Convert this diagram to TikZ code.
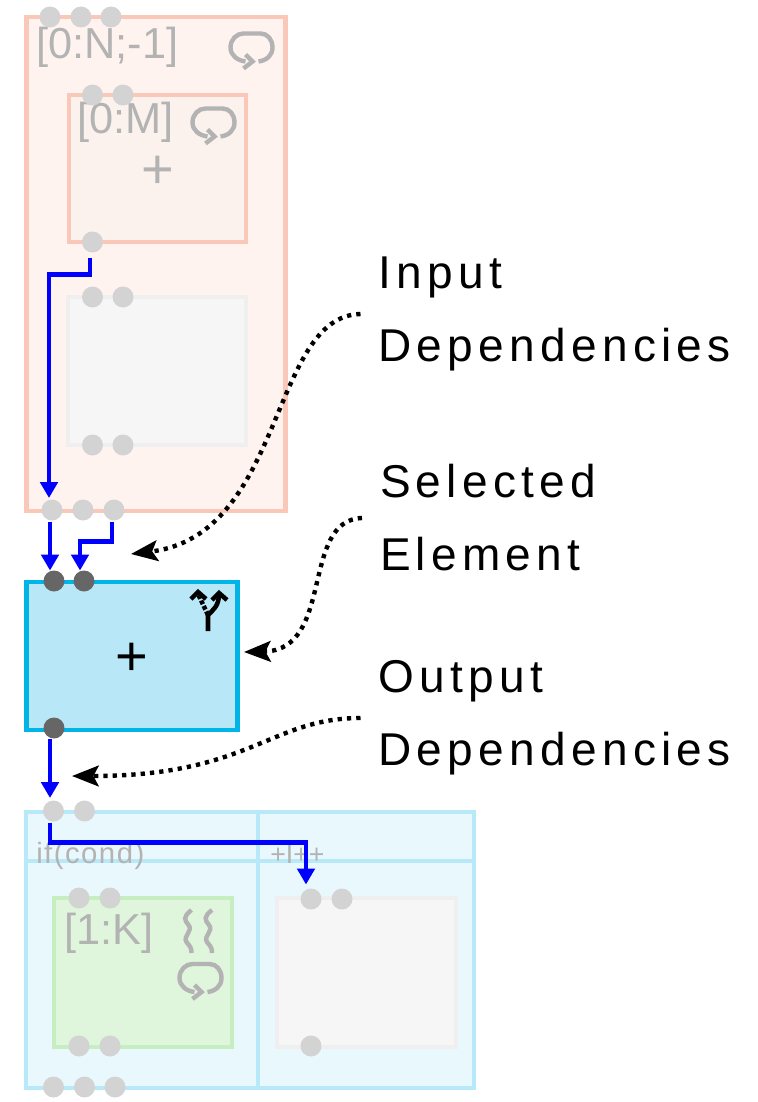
\documentclass[tikz,border=0pt]{standalone}
\usepackage{fontspec}
\setmainfont{Liberation Sans}
\usetikzlibrary{arrows.meta}
\definecolor{pinkline}{HTML}{F9C8B8}
\definecolor{pinkfill}{HTML}{FEF3EF}
\definecolor{pinkin}{HTML}{FBF1ED}
\definecolor{greyline}{HTML}{EFEFEF}
\definecolor{greyfill}{HTML}{F6F6F6}
\definecolor{selline}{HTML}{00B4E6}
\definecolor{selfill}{HTML}{B8E8F7}
\definecolor{ifline}{HTML}{B8E9F8}
\definecolor{iffill}{HTML}{E9F8FD}
\definecolor{greenline}{HTML}{C6EEC0}
\definecolor{greenfill}{HTML}{DFF5DC}
\definecolor{dimtext}{HTML}{B3B3B3}
\definecolor{portlight}{HTML}{D3D3D3}
\definecolor{portdark}{HTML}{666666}
\tikzset{
  x=0.75pt,y=-0.75pt,
  frame/.style={draw=#1,line width=3.2pt,rectangle,outer sep=0pt,inner sep=0pt,anchor=north west},
  port/.style={circle,fill=portlight,draw=none,minimum size=15.75pt,inner sep=0pt,outer sep=0pt},
  darkport/.style={port,fill=portdark},
  dep/.style={draw=blue,line width=3.5pt,-{Triangle[length=12pt,width=13pt]}},
  note/.style={draw=black,line width=3.3pt,dash pattern=on 3.2pt off 3.8pt,-{Stealth[length=20pt,width=15.5pt,inset=4pt]}},
  dimlabel/.style={text=dimtext,font=\fontsize{32.5pt}{32.5pt}\selectfont,anchor=base west,inner sep=0pt},
  smalllabel/.style={text=dimtext,font=\fontsize{21pt}{21pt}\selectfont,anchor=base west,inner sep=0pt},
  notelabel/.style={font=\addfontfeature{LetterSpace=11.5}\fontsize{34.5pt}{54.75pt}\selectfont,align=left,anchor=west,inner sep=0pt,outer sep=13.5pt},
  plusmark/.style={font=\fontsize{42pt}{42pt}\selectfont,inner sep=0pt},
  icon/.style={line width=3.3pt,draw=dimtext,line cap=butt},
  loopicon/.pic={
    \draw[icon] (-6,14) .. controls (-14,13) and (-21,8) .. (-21,0) .. controls (-21,-8) and (-15,-14) .. (-8,-14)
      -- (9,-14) .. controls (16,-14) and (21,-8) .. (21,0) .. controls (21,8) and (15,13) .. (7,14);
    \draw[icon] (-6,7) -- (1,14) -- (-8,21);
  },
  waveicon/.pic={
    \draw[icon] (0,0) .. controls (-9,7) and (-7,10) .. (-3,15) .. controls (2,21) and (-9,26) .. (-5,32) .. controls (-1,37) and (0,38) .. (0,43);
  }
}
\begin{document}
\begin{tikzpicture}
\useasboundingbox (0,0) rectangle (757,1102);
% frames
\node[frame=pinkline,fill=pinkfill,minimum width=194.25pt,minimum height=370.5pt] (outer) at (26.5,17) {};
\node[frame=pinkline,fill=pinkin,minimum width=133pt,minimum height=110.25pt] (inner) at (69,95) {};
\node[frame=greyline,fill=greyfill,minimum width=133.5pt,minimum height=111pt] (empty) at (68,297) {};
\node[frame=selline,fill=selfill,minimum width=158.25pt,minimum height=111pt] (sel) at (26.5,582) {};
\node[frame=ifline,fill=iffill,minimum width=336pt,minimum height=207pt] (cond) at (26,812) {};
\draw[ifline,line width=3.2pt] (cond.north west) ++(232,0) -- ++(0,276);
\draw[ifline,line width=3.2pt] (cond.north west) ++(0,49) -- ++(448,0);
\node[frame=greenline,fill=greenfill,minimum width=133.5pt,minimum height=111.75pt] (green) at (54,898) {};
\node[frame=greyline,fill=greyfill,minimum width=134.25pt,minimum height=111.75pt] (right) at (277,898) {};
% labels
\node[dimlabel] (l1) at (36,59) {[0:N;-1]};
\node[dimlabel] (l2) at (77,134) {[0:M]};
\node[dimlabel] (l3) at (64,944) {[1:K]};
\node[smalllabel,font=\addfontfeature{LetterSpace=5}\fontsize{22pt}{22pt}\selectfont] (l4) at (36,863) {if(cond)};
\node[smalllabel,font=\fontsize{20pt}{20pt}\selectfont] (l5) at (270,863) {+I++};
\node[plusmark,text=dimtext] (p1) at (157.5,172.5) {+};
\node[plusmark,text=black] (p2) at (131.5,659) {+};
% icons
\pic at (251.5,47.5) {loopicon};
\pic at (213.5,122.5) {loopicon};
\pic at (200.5,978) {loopicon};
\pic at (191.5,910) {waveicon};
\pic at (212,910) {waveicon};
% fork icon
\draw[line width=3.4pt] (208,631) -- (208,615) .. controls (213,610) and (219,606) .. (219,594);
\draw[line width=3.4pt] (212,600) -- (219,593) -- (227,600);
\draw[line width=3.4pt,dash pattern=on 3pt off 1.5pt] (208,615) -- (198,594);
\draw[line width=3.4pt] (191,599) -- (198,592) -- (206,599);
% ports
\foreach \n/\x/\y in {a1/50/17,a2/81/17,a3/111/17,b1/92.5/95,b2/123/95,c1/92.5/242,d1/92.5/297,d2/123/297,e1/92.5/445,e2/123/445,f1/52/510,f2/83/510,f3/114/510,h1/53.5/811,h2/84.5/811,i1/79/898,i2/110/898,j1/79/1046,j2/110/1046,k1/311/899,k2/342/899,m1/311/1046,n1/53.5/1087,n2/84.5/1087,n3/115/1087}
  \node[port] (\n) at (\x,\y) {};
\foreach \n/\x/\y in {g1/54/581,g2/84/581,g3/54/728}
  \node[darkport] (\n) at (\x,\y) {};
% dependencies
\draw[dep] ([shift={(-2.5,5)}]c1.south) -- ++(0,17) -| ([shift={(-3,-1.5)}]f1.north);
\draw[dep] ([shift={(-2,1)}]f1.south) -- ([shift={(-4,0)}]g1.north);
\draw[dep] ([shift={(-2,1)}]f3.south) -- ++(0,20) -| ([shift={(-4,0)}]g2.north);
\draw[dep] ([shift={(-4,0)}]g3.south) -- ([shift={(-3.5,-2.5)}]h1.north);
\draw[dep] ([shift={(-3.5,1)}]h1.south) -- ++(0,20) -| ([shift={(-5,-4)}]k1.north);
% notes
\node[notelabel] (n_in) at (360.5,314) {Input\\Dependencies};
\node[notelabel] (n_sel) at (362,518) {Selected\\Element};
\node[notelabel] (n_out) at (360.5,718) {Output\\Dependencies};
\coordinate (t1) at (131,554);
\coordinate (t2) at (244,652);
\coordinate (t3) at (72,776);
\draw[note] (n_in.west) .. controls (270,316) and (285,535) .. (t1);
\draw[note] (n_sel.west) .. controls (300,520) and (335,650) .. (t2);
\draw[note] (n_out.west) .. controls (270,718) and (250,776) .. (t3);
\end{tikzpicture}
\end{document}
